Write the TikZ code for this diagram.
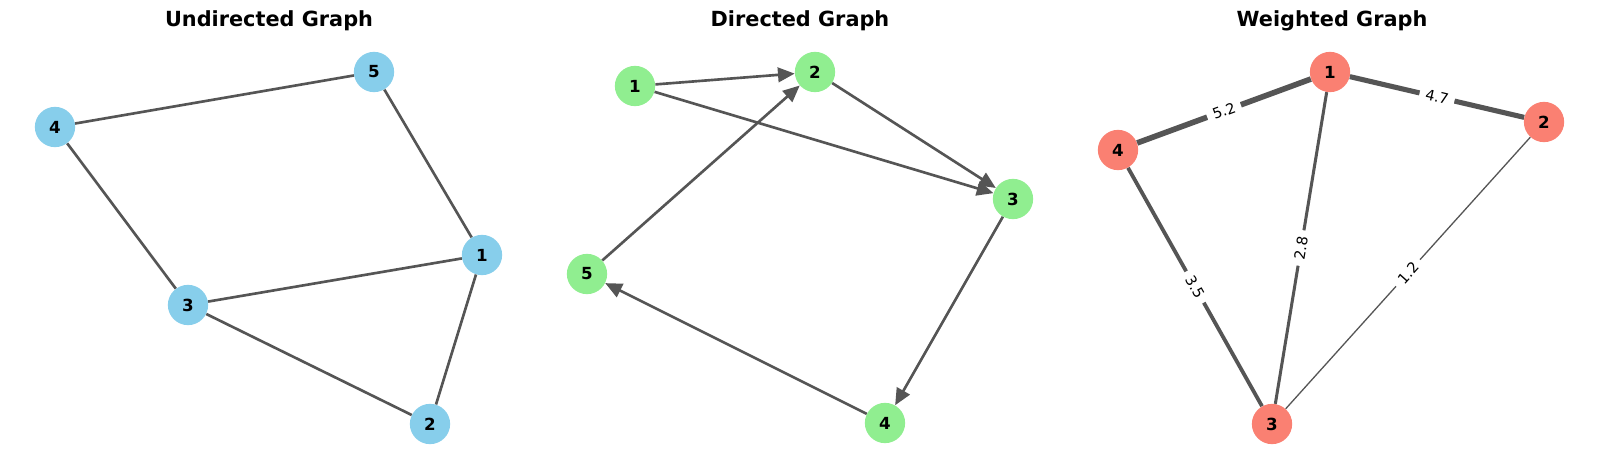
\documentclass[tikz,border=0pt]{standalone}
\usepackage{fontspec}
\setmainfont{DejaVu Sans}
\usetikzlibrary{arrows.meta}
\definecolor{edgegray}{RGB}{85,85,85}
\definecolor{skyblue}{RGB}{135,206,235}
\definecolor{lightgreen}{RGB}{144,238,144}
\definecolor{salmon}{RGB}{250,128,114}
\tikzset{
  vertex/.style={circle, fill=#1, minimum size=29pt, inner sep=0pt, font=\bfseries\fontsize{12}{12}\selectfont},
  gtitle/.style={anchor=base, font=\bfseries\fontsize{15}{15}\selectfont},
  ulink/.style={draw=edgegray, line width=1.9pt},
  dlink/.style={ulink, -{Triangle[length=12pt,width=10.5pt]}},
  wlink/.style={draw=edgegray, line width=#1*0.78pt},
  wlabel/.style={midway, sloped, fill=white, inner xsep=4.5pt, inner ysep=2pt, font=\fontsize{10.5}{10.5}\selectfont}
}
\begin{document}
\begin{tikzpicture}[x=0.72pt, y=-0.72pt]
    \fill[white] (0,0) rectangle (1600,471);
    % undirected
    \node[gtitle] (t1) at (269,27) {Undirected Graph};
    \node[vertex=skyblue] (u1) at (482,255) {1};
    \node[vertex=skyblue] (u2) at (430,424) {2};
    \node[vertex=skyblue] (u3) at (188,305) {3};
    \node[vertex=skyblue] (u4) at (55,127) {4};
    \node[vertex=skyblue] (u5) at (374,72) {5};
    \draw[ulink] (u4) -- (u5);
    \draw[ulink] (u4) -- (u3);
    \draw[ulink] (u5) -- (u1);
    \draw[ulink] (u1) -- (u3);
    \draw[ulink] (u3) -- (u2);
    \draw[ulink] (u1) -- (u2);
    % directed
    \node[gtitle] (t2) at (800,27) {Directed Graph};
    \node[vertex=lightgreen] (d1) at (635,86) {1};
    \node[vertex=lightgreen] (d2) at (815,72) {2};
    \node[vertex=lightgreen] (d3) at (1013,199) {3};
    \node[vertex=lightgreen] (d4) at (885,423) {4};
    \node[vertex=lightgreen] (d5) at (587,274) {5};
    \draw[dlink] (d1) -- (d2);
    \draw[dlink] (d1) -- (d3);
    \draw[dlink] (d2) -- (d3);
    \draw[dlink] (d3) -- (d4);
    \draw[dlink] (d4) -- (d5);
    \draw[dlink] (d5) -- (d2);
    % weighted
    \node[gtitle] (t3) at (1332,27) {Weighted Graph};
    \node[vertex=salmon] (w1) at (1330,72) {1};
    \node[vertex=salmon] (w2) at (1544,122) {2};
    \node[vertex=salmon] (w3) at (1272,424) {3};
    \node[vertex=salmon] (w4) at (1118,150) {4};
    \draw[wlink=5.2] (w4) -- node[wlabel] {5.2} (w1);
    \draw[wlink=4.7] (w1) -- node[wlabel] {4.7} (w2);
    \draw[wlink=2.8] (w3) -- node[wlabel] {2.8} (w1);
    \draw[wlink=3.5] (w4) -- node[wlabel] {3.5} (w3);
    \draw[wlink=1.2] (w3) -- node[wlabel] {1.2} (w2);
\end{tikzpicture}
\end{document}
